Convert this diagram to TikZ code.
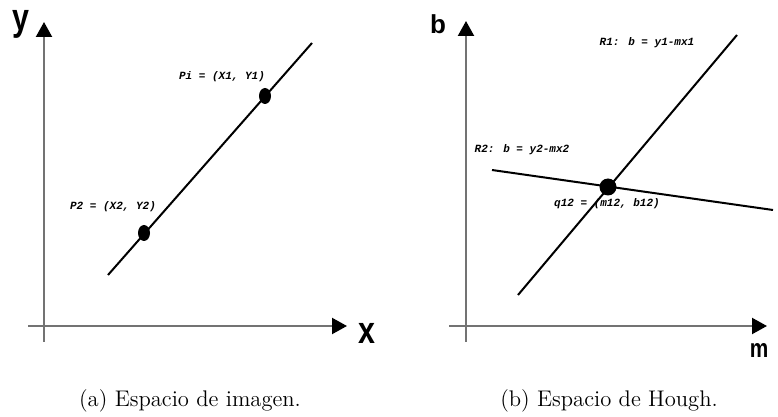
\documentclass[tikz,border=0pt]{standalone}
\usepackage{fontspec}
\usepackage{tikz}
\usetikzlibrary{arrows.meta, positioning, shapes.geometric}
\newfontfamily\lblfont{Liberation Mono}
\newfontfamily\axfont{Liberation Sans}

\begin{document}
\begin{tikzpicture}[
    x=0.5pt, y=-0.5pt,
    axis/.style={draw=black!55, line width=1.1pt, -{Triangle[length=7.5pt, width=8pt, color=black]}},
    rline/.style={draw, line width=1pt},
    dot/.style={ellipse, fill, inner sep=0pt, minimum width=6pt, minimum height=8pt},
    bigdot/.style={circle, fill, inner sep=0pt, minimum size=8.5pt},
    lbl/.style={font=\lblfont\bfseries\itshape\fontsize{5.5}{6}\selectfont, inner sep=0pt},
    axlbl/.style={font=\axfont\bfseries\fontsize{19}{20}\selectfont, inner sep=0pt},
    hlbl/.style={font=\axfont\bfseries\fontsize{13}{14}\selectfont, inner sep=0pt},
    caption/.style={font=\fontsize{11.3}{13}\selectfont, inner sep=0pt}
  ]
  \useasboundingbox (0,0) rectangle (778,417);

  % (a) image space
  \coordinate (ox) at (28,326);
  \coordinate (tx) at (347,326);
  \coordinate (oy) at (44,342);
  \coordinate (ty) at (44,22);
  \draw[axis] (ox) -- (tx);
  \draw[axis] (oy) -- (ty);
  \node[axlbl, anchor=base] (ylab) at (21,31) {\scalebox{0.8}[1]{y}};
  \node[axlbl] (xlab) at (367,333) {\scalebox{0.8}[1]{x}};

  \coordinate (la) at (108,275);
  \coordinate (lb) at (312,43);
  \draw[rline] (la) -- (lb);
  \node[dot] (p1) at (265,96) {};
  \node[dot] (p2) at (144,233) {};
  \node[lbl] (p1lab) at (222,77) {Pi = (X1, Y1)};
  \node[lbl] (p2lab) at (113,207) {P2 = (X2, Y2)};

  % (b) Hough space
  \coordinate (om) at (449,326);
  \coordinate (tm) at (767,326);
  \coordinate (ob) at (466,342);
  \coordinate (tb) at (466,21);
  \draw[axis] (om) -- (tm);
  \draw[axis] (ob) -- (tb);
  \node[hlbl] (blab) at (438,24) {b};
  \node[hlbl] (mlab) at (759,350) {\scalebox{0.8}[1]{m}};

  \coordinate (r1a) at (518,295);
  \coordinate (r1b) at (737,35);
  \coordinate (r2a) at (492,170);
  \coordinate (r2b) at (773,210);
  \draw[rline] (r1a) -- (r1b);
  \draw[rline] (r2a) -- (r2b);
  \node[bigdot] (q12) at (608,187) {};
  \node[lbl] (r1lab) at (647,43) {R1: b = y1-mx1};
  \node[lbl] (r2lab) at (522,150) {R2: b = y2-mx2};
  \node[lbl] (qlab) at (607,204) {q12 = (m12, b12)};

  % captions
  \node[caption] (capa) at (190,401) {(a) Espacio de imagen.};
  \node[caption] (capb) at (609,401) {(b) Espacio de Hough.};
\end{tikzpicture}
\end{document}
